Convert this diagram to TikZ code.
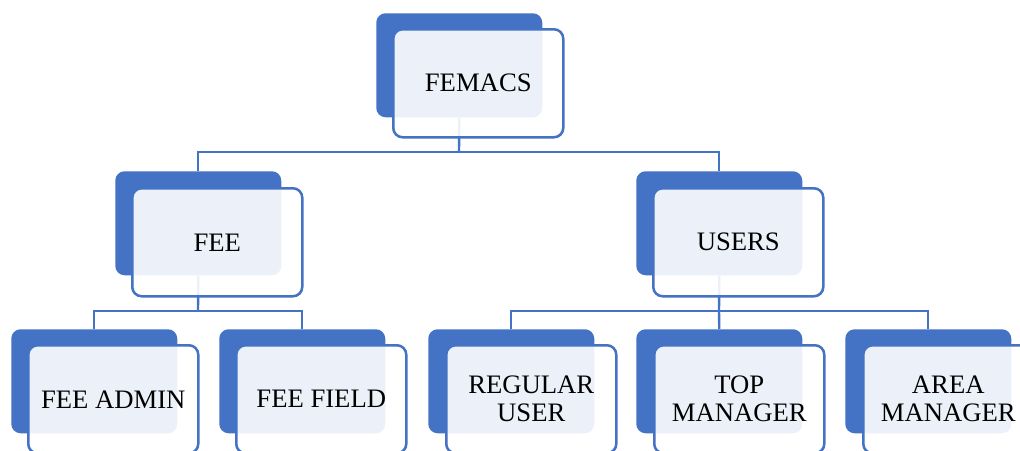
\documentclass[tikz,border=0pt]{standalone}
\usepackage{fontspec}
\setmainfont{Liberation Serif}
\definecolor{accent}{HTML}{4472C4}
\tikzset{
  backbox/.style={anchor=north west, fill=accent, draw=none, rounded corners=7pt,
    minimum width=124.5pt, minimum height=78pt, inner sep=0pt},
  frontbox/.style={anchor=north west, fill=white, fill opacity=0.9, text opacity=1,
    draw=accent, draw opacity=1, line width=1.9pt, rounded corners=7pt,
    minimum width=127.5pt, minimum height=81pt, inner sep=0pt, align=center,
    font=\fontsize{20}{21}\selectfont},
  conn/.style={draw=accent, line width=1.8pt}
}
\begin{document}
\begin{tikzpicture}[x=0.75pt, y=-0.75pt]
\useasboundingbox (0,0) rectangle (1020,450);
\clip (0,0) rectangle (1020,450);

% back panels
\node[backbox] (femacsB) at (376,13)  {};
\node[backbox] (feeB)    at (115,171) {};
\node[backbox] (usersB)  at (636,171) {};
\node[backbox] (adminB)  at (11,329)  {};
\node[backbox] (fieldB)  at (219,329) {};
\node[backbox] (regB)    at (428,329) {};
\node[backbox] (topB)    at (636,329) {};
\node[backbox] (areaB)   at (845,329) {};

% connectors between levels
\coordinate (bar1) at (459,152);
\coordinate (bar2) at (198,311);
\coordinate (bar3) at (719,311);
\draw[conn] (femacsB.south) -- (bar1);
\draw[conn] (feeB.north) |- (bar1) -| (usersB.north);
\draw[conn] (feeB.south) -- (bar2);
\draw[conn] (adminB.north) |- (bar2) -| (fieldB.north);
\draw[conn] (usersB.south) -- (bar3);
\draw[conn] (regB.north) |- (bar3) -| (areaB.north);
\draw[conn] (bar3) -- (topB.north);

% front cards with labels
\node[frontbox] (femacs) at (392,28)  {FEMACS};
\node[frontbox] (fee)    at (131,187) {FEE};
\node[frontbox] (users)  at (652,187) {USERS};
\node[frontbox] (admin)  at (27,344)  {FEE ADMIN};
\node[frontbox] (field)  at (235,344) {FEE FIELD};
\node[frontbox] (reg)    at (445,344) {REGULAR\\USER};
\node[frontbox] (top)    at (653,344) {TOP\\MANAGER};
\node[frontbox] (area)   at (862,344) {AREA\\MANAGER};
\end{tikzpicture}
\end{document}
